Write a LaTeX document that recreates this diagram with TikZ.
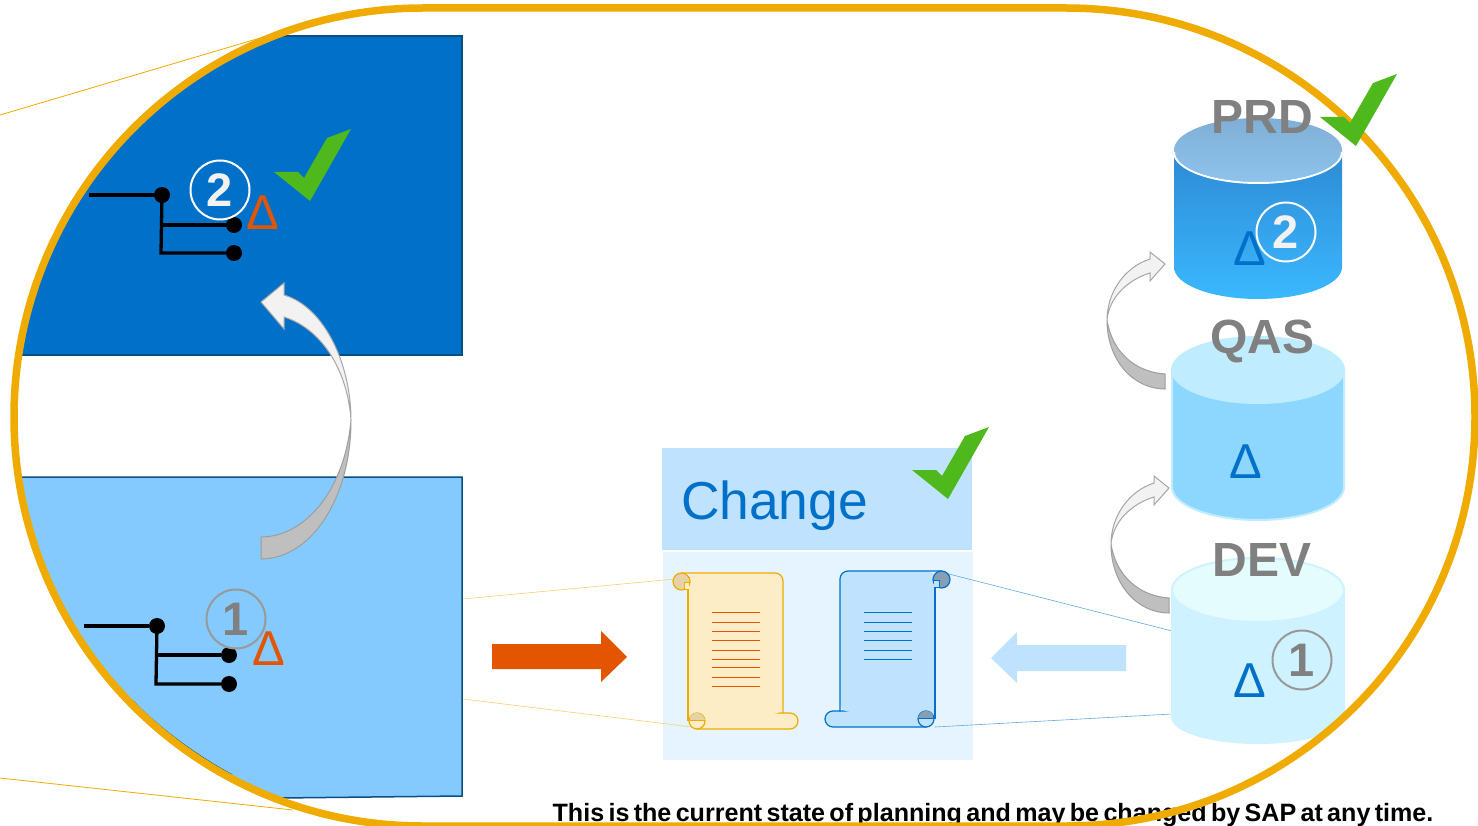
\documentclass[tikz,border=0pt]{standalone}
\usepackage{fontspec}
\setmainfont{Liberation Sans}
\newfontfamily\footfont[WordSpace=0.62]{Liberation Sans}
\definecolor{ring}{HTML}{F0AB00}
\definecolor{sapblue}{HTML}{0070C9}
\definecolor{skyblue}{HTML}{84CAFF}
\definecolor{edgeblue}{HTML}{0A4E82}
\definecolor{sapred}{HTML}{E35500}
\definecolor{paleblue}{HTML}{BFE3FF}
\definecolor{panelblue}{HTML}{E5F4FF}
\definecolor{checkgreen}{HTML}{4FB81C}
\definecolor{labelgray}{HTML}{808080}
\definecolor{prdbodytop}{HTML}{2D8AD4}
\definecolor{prdbodybot}{HTML}{3BB8FF}
\definecolor{prdcaptop}{HTML}{80AFD6}
\definecolor{prdcapbot}{HTML}{8EC3EC}
\definecolor{qasbody}{HTML}{8DD7FF}
\definecolor{qascap}{HTML}{BFEDFF}
\definecolor{devbody}{HTML}{CEF2FF}
\definecolor{devcap}{HTML}{E5FCFF}
\newcommand{\ringpath}{(423,8) -- (1066,8) .. controls (1292,8) and (1475,191) .. (1475,417) .. controls (1475,643) and (1292,826) .. (1066,826) -- (423,826) .. controls (197,826) and (14,643) .. (14,417) .. controls (14,191) and (197,8) .. (423,8) -- cycle}
\newcommand{\scrollshape}[3]{%
  % bottom roll
  \draw[line width=1.2pt,draw=#2,fill=#1,rounded corners=8pt] (690,713) rectangle (798,729);
  % sheet
  \fill[#1,rounded corners=8pt] (688,721) -- (688,573) -- (783,573) -- (783,713) -- cycle;
  \draw[line width=1.2pt,draw=#2,rounded corners=8pt] (681,573) -- (783,573) -- (783,713.5);
  \draw[line width=1.2pt,draw=#2] (688,588) -- (688,721);
  % top curl
  \draw[line width=1.2pt,draw=#2,fill=#3] (681.5,581.5) circle [radius=8.5];
  \fill[#1] (684,582) rectangle (689,589);
  \draw[line width=.8pt,draw=#2] (689,582) -- (684,582) -- (684,589) -- (689,589);
  % bottom curl
  \draw[line width=1.2pt,draw=#2,fill=#1] (697,721) circle [radius=8];
  \fill[#3] (690,720) .. controls (689,715) and (693,713) .. (697,713) .. controls (701,713) and (704,716) .. (705,720) -- cycle;
  \draw[line width=1pt,draw=#2] (690,720.5) -- (705,720.5);
}
\tikzset{
  x=1pt,y=-1pt,
  every node/.style={inner sep=0pt,outer sep=0pt},
  ringline/.style={line width=7.5pt,draw=ring},
  thinlead/.style={line width=.8pt,draw=ring},
  palelead/.style={line width=.6pt,draw=ring!55},
  bluelead/.style={line width=.6pt,draw=sapblue!60},
  treeline/.style={line width=3.3pt,draw=black},
  treedot/.style={circle,fill=black,minimum size=16pt},
  numwhite/.style={circle,draw=white,line width=2pt,minimum size=59pt,text=white!95!black,font=\fontsize{47}{47}\selectfont\bfseries},
  numgray/.style={circle,draw=black!40,line width=2pt,minimum size=59pt,text=labelgray,font=\fontsize{47}{47}\selectfont\bfseries},
  deltared/.style={text=sapred,anchor=base,font=\fontsize{49}{49}\selectfont},
  deltablue/.style={text=sapblue,anchor=base,font=\fontsize{49}{49}\selectfont},
  dblabel/.style={text=labelgray,anchor=base,font=\fontsize{48}{48}\selectfont\bfseries},
  curvelight/.style={fill=black!5,draw=black!35,line width=1pt},
  curvedark/.style={fill=black!25,draw=black!38,line width=1pt},
  chk/.pic={\fill[checkgreen] (0,0) -- (24,0) -- (30,6) -- (53,-34) -- (77,-43) -- (36,29) -- cycle;},
  smallcurve/.pic={
    \draw[curvedark] (1107,320) .. controls (1107,360) and (1133,389) .. (1165,389) -- (1165,374) .. controls (1135,372) and (1112,352) .. (1107,320) -- cycle;
    \draw[curvelight] (1165,264) -- (1150,252) -- (1150,259) .. controls (1125,267) and (1107,292) .. (1107,320) .. controls (1109,298) and (1127,280) .. (1150,273) -- (1150,281) -- cycle;
  },
}
\begin{document}
\begin{tikzpicture}
\useasboundingbox (0,0) rectangle (1478,826);
\fill[white] (0,0) rectangle (1478,826);
% leader lines
\coordinate (ul) at (0,115); \coordinate (ur) at (277,33);
\coordinate (ll) at (0,778); \coordinate (lr) at (293,810);
\draw[thinlead] (ul) -- (ur);
\draw[thinlead] (ll) -- (lr);
\coordinate (p1a) at (463,599); \coordinate (p1b) at (675,579);
\coordinate (p2a) at (463,699); \coordinate (p2b) at (692,727);
\coordinate (b1a) at (945,573); \coordinate (b1b) at (1172,631);
\coordinate (b2a) at (935,727); \coordinate (b2b) at (1172,714);
% tinted rectangles, clipped by the ring
\begin{scope}
  \clip \ringpath;
  \draw[fill=sapblue,draw=edgeblue,line width=1.5pt] (-5,36) rectangle (462,355);
  \draw[fill=skyblue,draw=edgeblue,line width=1.5pt] (-5,477) -- (462,477) -- (462,796) -- (280,798) -- (-5,798) -- cycle;
  \draw[edgeblue,line width=1.5pt] (133,701) .. controls (147,717) and (187,751) .. (232,775);
\end{scope}
% trees
\node[treedot] (t1) at (162,195) {};
\node[treedot] (t2) at (234,225) {};
\node[treedot] (t3) at (234,253) {};
\coordinate (t0) at (89,195);
\coordinate (t4) at (161,225);
\coordinate (t5) at (161,253);
\draw[treeline] (t0) -- (t1);
\draw[treeline] (t1.center) -- (t5) -- (t3);
\draw[treeline] (t4) -- (t2);
\node[treedot] (s1) at (157,626) {};
\node[treedot] (s2) at (229,655) {};
\node[treedot] (s3) at (229,684) {};
\coordinate (s0) at (84,626);
\coordinate (s4) at (156,655);
\coordinate (s5) at (156,684);
\draw[treeline] (s0) -- (s1);
\draw[treeline] (s1.center) -- (s5) -- (s3);
\draw[treeline] (s4) -- (s2);
\node[numwhite] (n2a) at (220,190) {\raisebox{-1.5pt}{2}};
\node[numgray] (n1a) at (236,619) {\raisebox{-1.5pt}{1}};
\node[deltared] (d1) at (263,229.5) {Δ};
\node[deltared] (d2) at (269,665) {Δ};
% big curved arrow
\draw[curvedark] (261,537) .. controls (305,537) and (345,490) .. (351,420) .. controls (351,500) and (310,559) .. (261,559) -- cycle;
\draw[curvelight] (261,302) -- (284,283) -- (284,295) .. controls (325,307) and (351,365) .. (351,420) .. controls (348,375) and (325,330) .. (284,317) -- (284,329) -- cycle;
% block arrows
\fill[sapred] (492,644) -- (601,644) -- (601,631) -- (627,657) -- (601,682) -- (601,669) -- (492,669) -- cycle;
\fill[paleblue] (1126,645) -- (1017,645) -- (1017,632) -- (991,658) -- (1017,683) -- (1017,671) -- (1126,671) -- cycle;
% change card
\fill[paleblue] (662,448) rectangle (972,550);
\fill[panelblue] (663,552) rectangle (973,760);
\node[anchor=base west,text=sapblue,font=\fontsize{53.4}{53.4}\selectfont] (chg) at (681,519) {Change};
\draw[palelead] (p1a) -- (p1b);
\draw[palelead] (p2a) -- (p2b);
\draw[bluelead] (b1a) -- (b1b);
\draw[bluelead] (b2a) -- (b2b);
% scrolls
\scrollshape{ring!22!white}{ring}{black!25!ring!35!white}
\foreach \yy in {612,622,631,640,650,659,667,677,686} \draw[sapred,line width=1pt] (712,\yy) -- (760,\yy);
\begin{scope}[xshift=1623pt,yshift=2pt,xscale=-1]
\scrollshape{paleblue}{sapblue}{black!30!paleblue}
\end{scope}
\foreach \yy in {612,622,631,640,650,659} \draw[sapblue,line width=1pt] (864,\yy) -- (912,\yy);
% PRD cylinder
\path[top color=prdbodytop,bottom color=prdbodybot] (1174,150) -- (1174,267) arc[start angle=180,end angle=0,x radius=84,y radius=32] -- (1342,150) -- cycle;
\path[top color=prdcaptop,bottom color=prdcapbot] (1258,150) ellipse [x radius=84,y radius=32];
\draw[white,line width=2pt] (1174,152) arc[start angle=180,end angle=0,x radius=84,y radius=31];
% QAS cylinder
\draw[fill=qasbody,draw=qascap,line width=2pt] (1172,370) -- (1172,487) arc[start angle=180,end angle=0,x radius=86,y radius=33] -- (1344,370) -- cycle;
\fill[qascap] (1258,370) ellipse [x radius=87,y radius=34];
% DEV cylinder
\fill[devbody] (1171,590) -- (1171,717) arc[start angle=180,end angle=0,x radius=87,y radius=27] -- (1345,590) -- cycle;
\draw[fill=devcap,draw=devbody,line width=2pt] (1258,590) ellipse [x radius=86,y radius=32];
% small curved arrows
\pic {smallcurve};
\pic[shift={(4,224)}] {smallcurve};
% cylinder labels and marks
\node[dblabel] (prd) at (1262,134) {PRD};
\node[dblabel] (qas) at (1262,353.5) {QAS};
\node[dblabel] (dev) at (1262,576.5) {DEV};
\node[deltablue] (d3) at (1250,266) {Δ};
\node[deltablue] (d4) at (1246,478) {Δ};
\node[deltablue] (d5) at (1250,697) {Δ};
\node[numwhite] (n2b) at (1286,232) {\raisebox{-1.5pt}{2}};
\node[numgray] (n1b) at (1302,660) {\raisebox{-1.5pt}{1}};
% footer under the ring
\node[anchor=base,font=\footfont\fontsize{25.1}{25}\selectfont\bfseries] (foot) at (993,821) {This is the current state of planning and may be changed by SAP at any time.};
% the ring
\draw[ringline] \ringpath;
% check marks
\pic at (274,172) {chk};
\pic at (912,470) {chk};
\pic at (1320,117) {chk};
\end{tikzpicture}
\end{document}
